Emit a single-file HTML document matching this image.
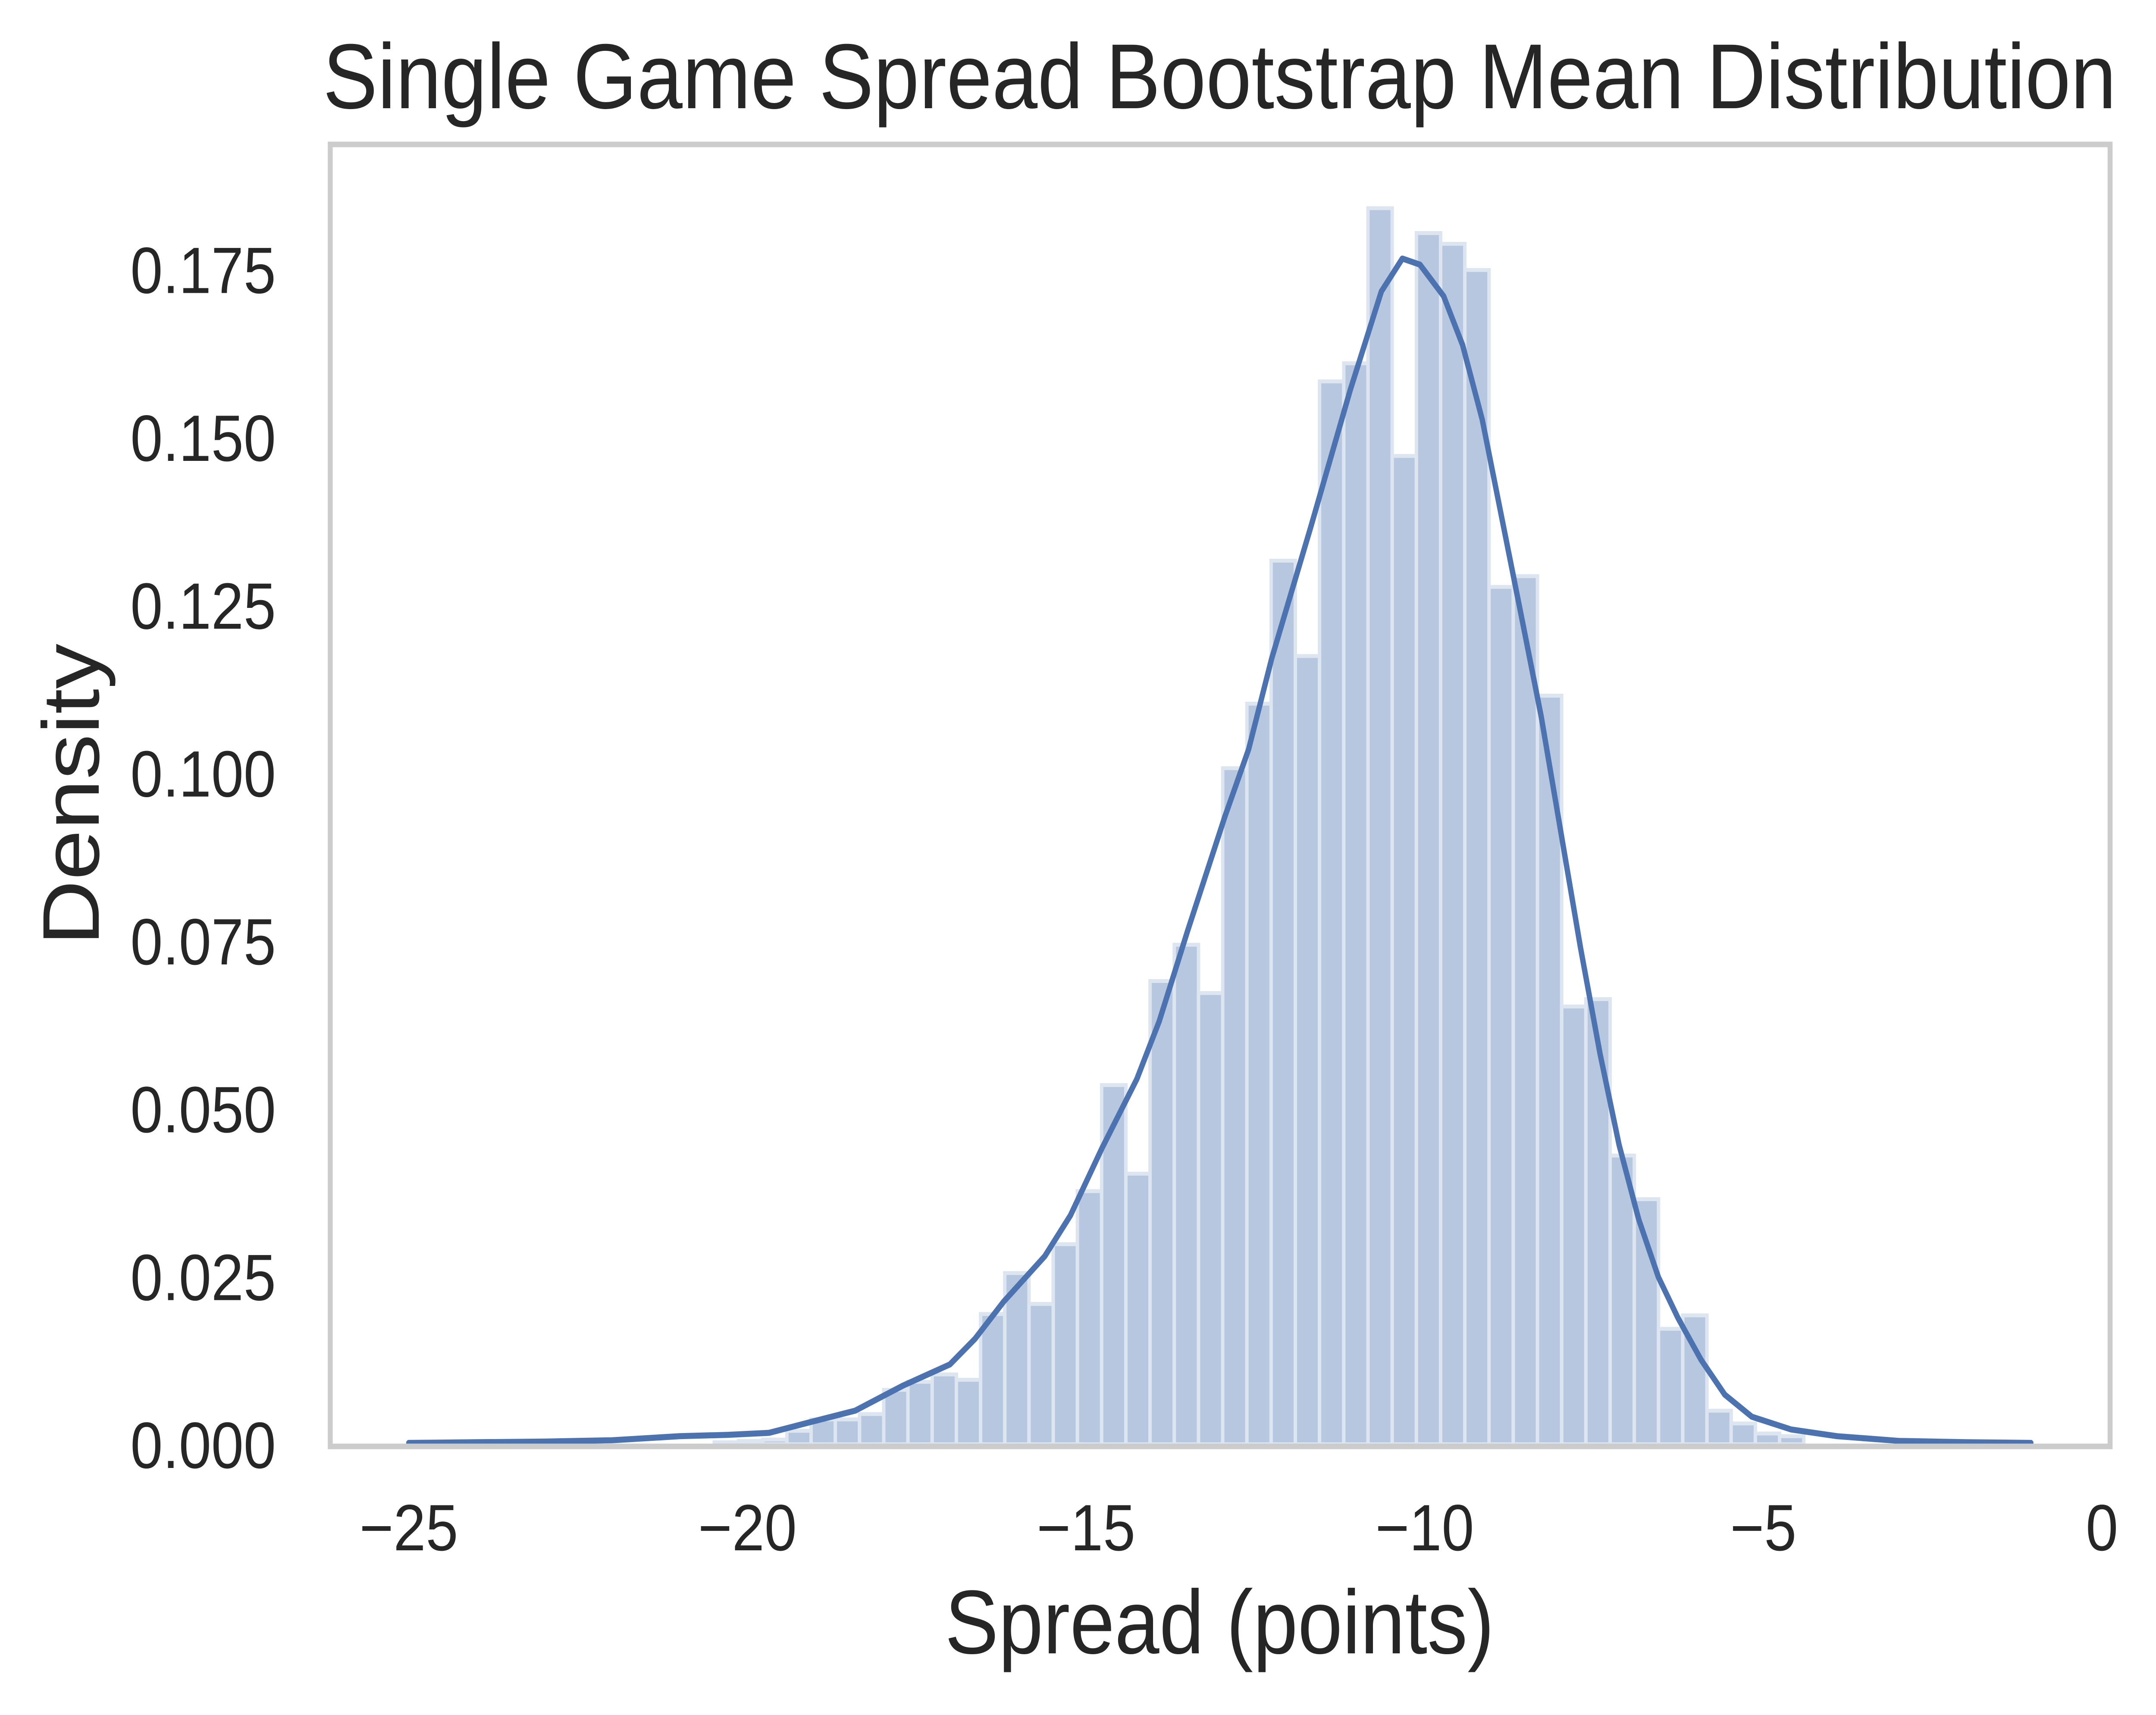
<!DOCTYPE html>
<html><head><meta charset="utf-8"><style>
html,body{margin:0;padding:0;background:#fff;overflow:hidden;width:100vw;height:100vh;}
svg{display:block;width:100vw;height:100vh;font-family:"Liberation Sans",Arial,sans-serif;}
</style></head><body>
<svg id="chart" viewBox="0 0 5634 3978" preserveAspectRatio="none" xmlns="http://www.w3.org/2000/svg">
<rect x="0" y="0" width="5634" height="3978" fill="#ffffff"/>
<g id="bars"></g>
<g id="kde"></g>
<g id="axes"></g>
<text x="3187" y="251" text-anchor="middle" font-size="214" fill="#262626">Single Game Spread Bootstrap Mean Distribution</text>
<text x="3187" y="3835" text-anchor="middle" font-size="210" fill="#262626">Spread (points)</text>
<text transform="translate(258,1843) rotate(-90)" text-anchor="middle" font-size="210" fill="#262626">Density</text>
</svg>
<script>
const binStart = -20.49;
const binWidth = 0.3575;
const binHeights = [0.0003,0.0005,0.0007,0.0020,0.0037,0.0037,0.0045,0.0081,0.0093,0.0104,0.0096,0.0194,0.0255,0.0209,0.0298,0.0377,0.0535,0.0403,0.0690,0.0744,0.0672,0.1007,0.1103,0.1316,0.1174,0.1583,0.1610,0.1841,0.1472,0.1804,0.1788,0.1749,0.1277,0.1293,0.1115,0.0652,0.0663,0.0430,0.0365,0.0172,0.0192,0.0050,0.0031,0.0016,0.0012];
const kdeX = [-25,-24,-23,-22,-21,-20.3,-19.68,-19.07,-18.41,-17.71,-17.01,-16.64,-16.22,-15.61,-15.23,-14.77,-14.25,-13.92,-13.5,-12.95,-12.6,-12.26,-11.68,-11.1,-10.64,-10.33,-10.07,-9.72,-9.44,-9.15,-8.86,-8.57,-8.28,-7.99,-7.7,-7.41,-7.13,-6.84,-6.55,-6.26,-5.92,-5.57,-5.17,-4.59,-3.91,-3,-2,-1.05];
const kdeY = [0.0002,0.0003,0.0004,0.0006,0.0012,0.0014,0.0017,0.0033,0.005,0.0087,0.0119,0.0157,0.0212,0.028,0.0341,0.044,0.0544,0.063,0.0765,0.0935,0.1035,0.117,0.1367,0.157,0.1717,0.1766,0.1757,0.171,0.1637,0.1526,0.1379,0.1232,0.1084,0.0912,0.074,0.0581,0.0446,0.0335,0.0249,0.0188,0.0126,0.0074,0.0041,0.0022,0.0012,0.0005,0.0003,0.0002];
const xTicks = [-25,-20,-15,-10,-5,0];
const xTickLabels = ["\u221225","\u221220","\u221215","\u221210","\u22125","0"];
const yTicks = [0,0.025,0.05,0.075,0.1,0.125,0.15,0.175];
const yTickLabels = ["0.000","0.025","0.050","0.075","0.100","0.125","0.150","0.175"];

const NS="http://www.w3.org/2000/svg";
const xMin=-26.16, xMax=0.12, pxL=863, pxR=5514;
const yMin=0, yMax=0.1936, pyB=3350, pyT=335;
function sx(v){return pxL+(v-xMin)/(xMax-xMin)*(pxR-pxL);}
function sy(v){return pyB-(v-yMin)/(yMax-yMin)*(pyB-pyT);}
function mk(tag,attrs,parent){const e=document.createElementNS(NS,tag);for(const k in attrs)e.setAttribute(k,attrs[k]);parent.appendChild(e);return e;}

const bars=document.getElementById('bars');
binHeights.forEach((h,i)=>{
  const x0=sx(binStart+i*binWidth), x1=sx(binStart+(i+1)*binWidth);
  const r=mk('rect',{x:x0,y:sy(h),width:x1-x0,height:sy(0)-sy(h),fill:'#b7c7e0',stroke:'#dde5f1','stroke-width':9},bars);
  
  
});

const kde=document.getElementById('kde');
let d='';
kdeX.forEach((x,i)=>{d+=(i?'L':'M')+sx(x).toFixed(1)+','+sy(kdeY[i]).toFixed(1);});
const line=mk('path',{d:d,fill:'none',stroke:'#4c72b0','stroke-width':14,'stroke-linejoin':'round','stroke-linecap':'round'},kde);



const axes=document.getElementById('axes');
const frame=mk('rect',{x:pxL,y:pyT,width:pxR-pxL,height:3355-pyT,fill:'none',stroke:'#cccccc','stroke-width':13},axes);


xTicks.forEach((v,i)=>{
  const t=mk('text',{x:sx(v),y:3596,'text-anchor':'middle','font-size':152,fill:'#262626'},axes);
  t.textContent=xTickLabels[i];
  
  
});
yTicks.forEach((v,i)=>{
  const t=mk('text',{x:721,y:sy(v)+55,'text-anchor':'end','font-size':152,fill:'#262626'},axes);
  t.textContent=yTickLabels[i];
  
  
});
</script>
</body></html>
